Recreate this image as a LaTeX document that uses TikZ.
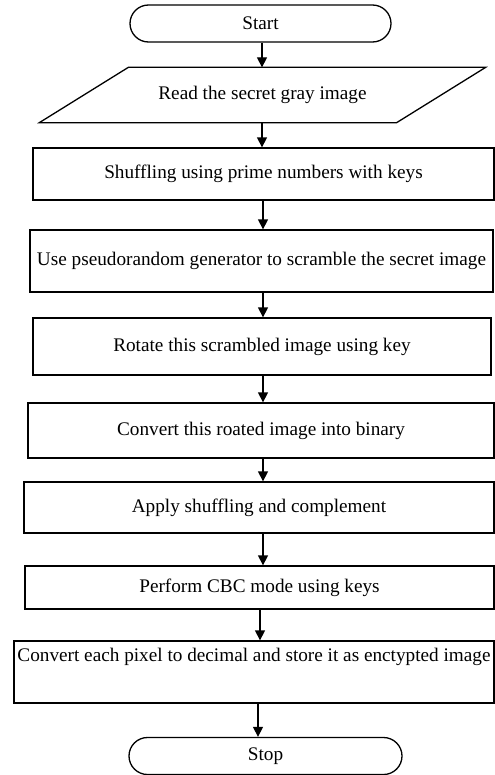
\documentclass[tikz,border=0pt]{standalone}
\usepackage{fontspec}
\setmainfont{Liberation Serif}
\usetikzlibrary{shapes.misc,arrows.meta}

\tikzset{
  base/.style={draw, line width=1.3bp, inner sep=2bp, align=center,
    font=\fontsize{19.3}{23}\selectfont},
  terminal/.style={base, rounded rectangle},
  inout/.style={base, draw=none, rectangle},
  process/.style={base, rectangle},
  arr/.style={line width=1.3bp, -{Triangle[length=10bp,width=10bp]}}
}

\begin{document}
\begin{tikzpicture}[x=1bp,y=-1bp]
    \useasboundingbox (0,0) rectangle (495,775);

    % Constants
    \def\sl{44.5} % half slant of the input box

    % Start and read
    \node[terminal, minimum width=265bp, minimum height=37bp] (start) at (260.5,23.5) {Start};
    \node[inout, minimum width=356bp, minimum height=54bp] (read) at (262.5,95) {Read the secret gray image};
    \draw[line width=1.3bp] ([xshift=\sl bp]read.north west) -- ([xshift=\sl bp]read.north east)
        -- ([xshift=-\sl bp]read.south east) -- ([xshift=-\sl bp]read.south west) -- cycle;

    % Processing steps
    \node[process, minimum width=461bp, minimum height=52bp] (shuf) at (263.5,174) {Shuffling using prime numbers with keys};
    \node[process, minimum width=463bp, minimum height=62bp] (prng) at (261.5,261) {Use pseudorandom generator to scramble the secret image};
    \node[process, minimum width=458bp, minimum height=57bp] (rot) at (262,346.5) {Rotate this scrambled image using key};
    \node[process, minimum width=466bp, minimum height=55bp] (bin) at (261,430.5) {Convert this roated image into binary};
    \node[process, minimum width=470bp, minimum height=51bp] (compl) at (259,507.5) {Apply shuffling and complement};
    \node[process, minimum width=469bp, minimum height=43bp] (cbc) at (259.5,587.5) {Perform CBC mode using keys};
    \node[process, minimum width=480bp, minimum height=62bp, text depth=35bp] (dec) at (254,672) {Convert each pixel to decimal and store it as enctypted image};

    % Stop
    \node[terminal, minimum width=277bp, minimum height=37bp] (stop) at (265.5,756) {Stop};

    % Arrow columns
    \coordinate (ax) at (262,0);
    \coordinate (bx) at (263,0);
    \coordinate (cx) at (260,0);
    \coordinate (dx) at (258,0);

    % Connectors
    \draw[arr] (start.south -| ax) -- (read.north -| ax);
    \draw[arr] (read.south -| ax) -- (shuf.north -| ax);
    \draw[arr] (shuf.south -| bx) -- (prng.north -| bx);
    \draw[arr] (prng.south -| bx) -- (rot.north -| bx);
    \draw[arr] (rot.south -| bx) -- (bin.north -| bx);
    \draw[arr] (bin.south -| bx) -- (compl.north -| bx);
    \draw[arr] (compl.south -| bx) -- (cbc.north -| bx);
    \draw[arr] (cbc.south -| cx) -- (dec.north -| cx);
    \draw[arr] (dec.south -| dx) -- (stop.north -| dx);

\end{tikzpicture}
\end{document}
